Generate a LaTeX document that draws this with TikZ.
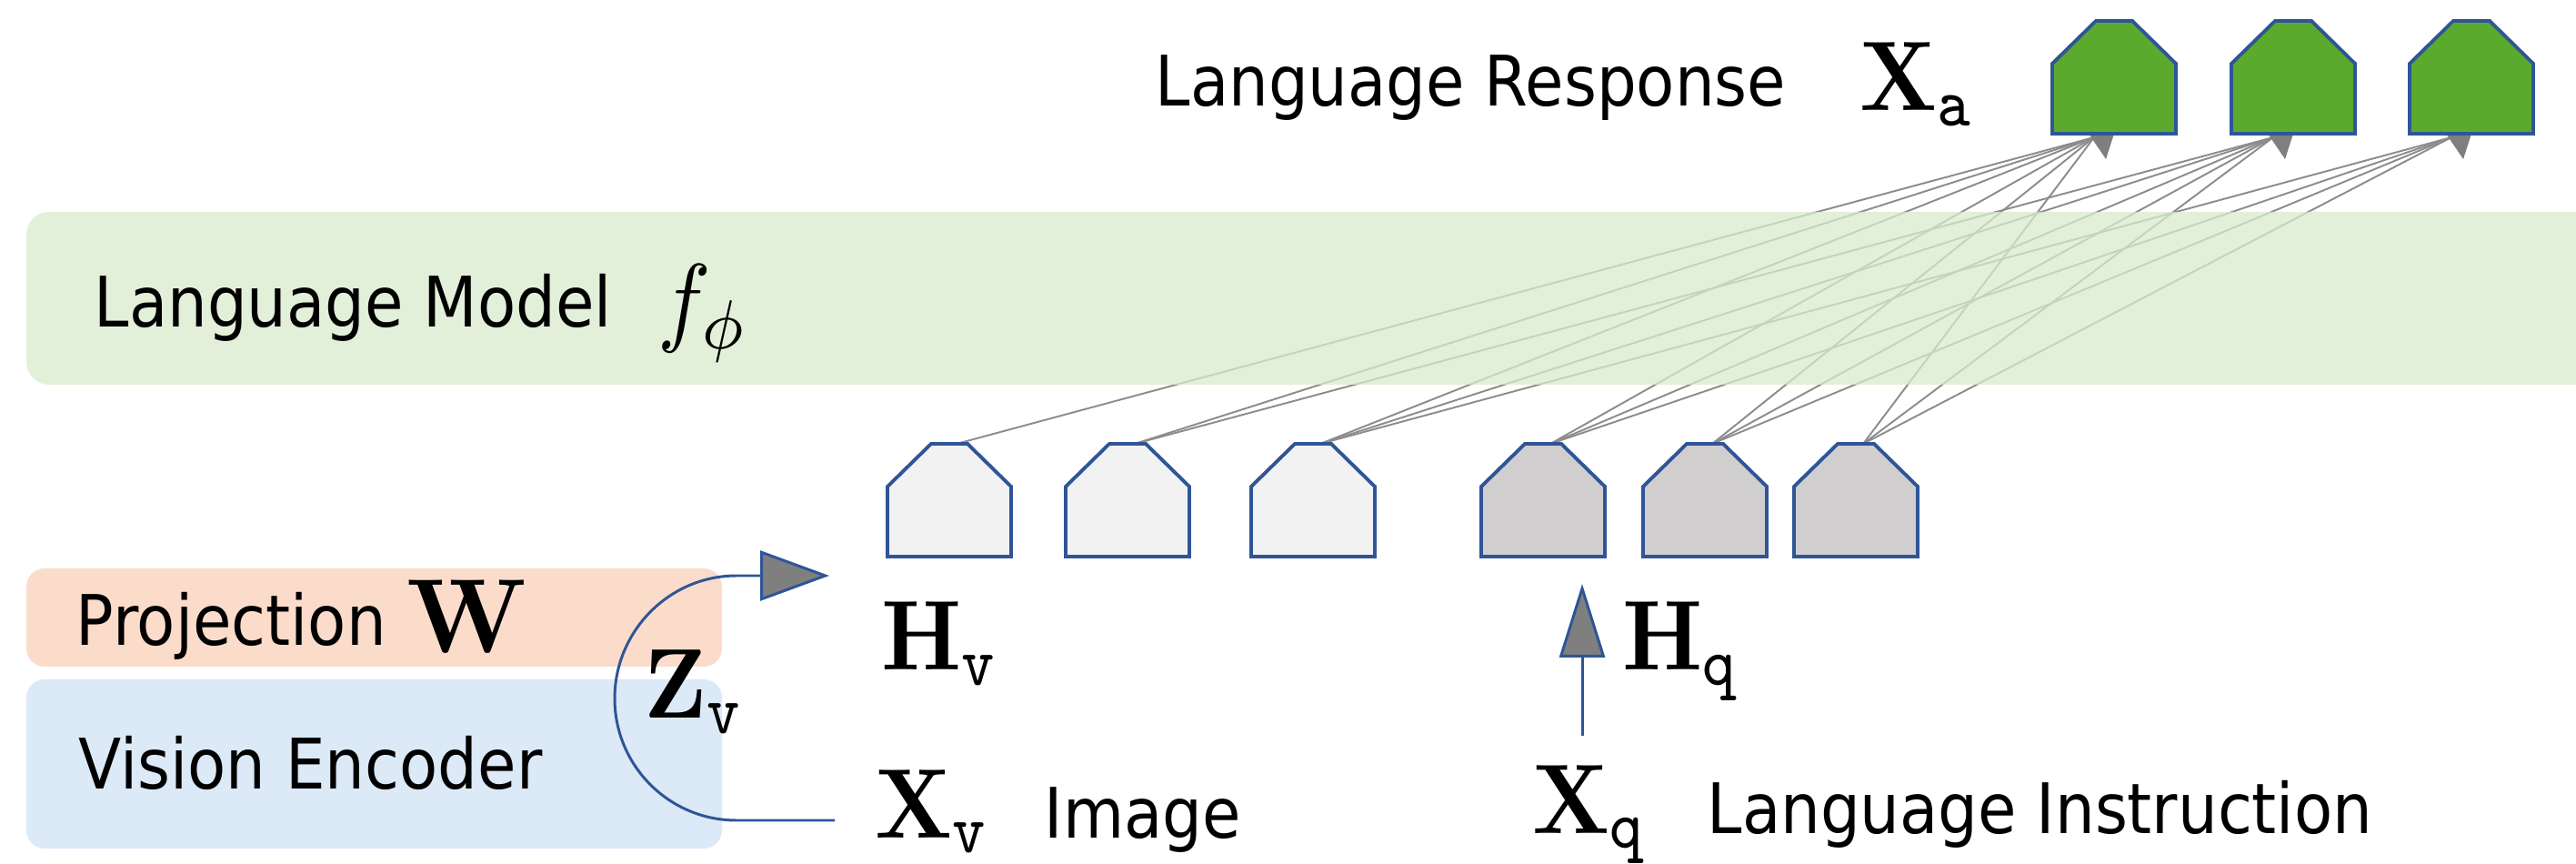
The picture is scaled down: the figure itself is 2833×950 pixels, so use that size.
\documentclass[tikz,border=0pt]{standalone}
\usepackage[no-math]{fontspec}
\setmainfont[FakeStretch=0.9]{DejaVu Sans}
\usepackage{graphicx}
\usetikzlibrary{arrows.meta,calc}
\pgfdeclarelayer{lines}
\pgfdeclarelayer{band}
\pgfsetlayers{lines,band,main}
\definecolor{projfill}{HTML}{FBDCCB}
\definecolor{visfill}{HTML}{DCE9F7}
\definecolor{lmfill}{HTML}{D8EBCC}
\definecolor{tokblue}{HTML}{2F5597}
\definecolor{toklight}{HTML}{F2F2F2}
\definecolor{tokdark}{HTML}{D0CECE}
\definecolor{tokgreen}{HTML}{5BAA2E}
\definecolor{conngray}{HTML}{8C8C8C}
\definecolor{headgray}{HTML}{7F7F7F}
\newcommand{\mth}[1]{\scalebox{2.79}[3.1]{$#1$}}
\newcommand{\mthbig}[1]{\scalebox{3.15}[3.3]{$#1$}}
\newcommand{\tokpoly}[2]{%
  \filldraw[tokedge, fill=#2] (#1.south west) -- ($(#1.north west)+(0,47)$)
    -- ($(#1.north)+(-20,0)$) -- ($(#1.north)+(20,0)$)
    -- ($(#1.north east)+(0,47)$) -- (#1.south east) -- cycle;}
\tikzset{
  tokbox/.style={minimum width=13.6mm, minimum height=12.4mm, inner sep=0pt, outer sep=0pt},
  tokedge/.style={draw=tokblue, line width=1.1pt, line join=miter},
  lbl/.style={anchor=base west, inner sep=0pt, font=\fontsize{21.8}{24}\selectfont},
  mlbl/.style={anchor=base west, inner sep=0pt},
  conn/.style={draw=conngray, line width=0.55pt},
  arcline/.style={draw=tokblue, line width=0.85pt},
}
\begin{document}
\begin{tikzpicture}[x=0.1mm, y=-0.1mm]
\useasboundingbox (0,0) rectangle (2833,950);

% ---- boxes ----
\fill[projfill, rounded corners=2mm] (29,625) rectangle (794,733);
\fill[visfill, rounded corners=2mm] (29,747) rectangle (794,933);
\begin{pgfonlayer}{band}
  \fill[lmfill, fill opacity=0.75, rounded corners=2.5mm] (29,233) rectangle (2950,423);
\end{pgfonlayer}

% ---- input tokens ----
\foreach \n/\x/\c in {1/1044/toklight, 2/1240/toklight, 3/1444/toklight,
                      4/1697/tokdark, 5/1875/tokdark, 6/2041/tokdark}{
  \node[tokbox] (t\n) at (\x,550) {};
  \tokpoly{t\n}{\c}
}
% ---- output tokens ----
\foreach \n/\x in {1/2325, 2/2522, 3/2718}{
  \node[tokbox] (a\n) at (\x,85) {};
  \tokpoly{a\n}{tokgreen}
}

% ---- attention lines ----
\begin{pgfonlayer}{lines}
  \foreach \g/\from in {1/1, 2/2, 3/3}{
    \foreach \i in {\from,...,6}{
      \draw[conn] ($(t\i.north)+(8,0)$) -- ($(a\g.south)+(-22,4)$);
    }
    \fill[headgray] ($(a\g.south)+(-28,0)$) -- ($(a\g.south)+(0,0)$) -- ($(a\g.south)+(-9,28)$) -- cycle;
  }
\end{pgfonlayer}

% ---- labels ----
\node[lbl] (lr) at (1270,117) {Language Response};
\node[mlbl] (xa) at (2045,122) {\mth{\mathbf{X}_{\mathtt{a}}}};
\node[lbl] (lm) at (103,360) {Language Model};
\node[mlbl] (fphi) at (723,367) {\mth{f_{\phi}}};
\node[lbl] (proj) at (83,710) {Projection};
\node[mlbl] (w) at (447,718) {\mthbig{\mathbf{W}}};
\node[lbl] (venc) at (86,867) {Vision Encoder};
\node[mlbl] (zv) at (708,790) {\mth{\mathbf{Z}_{\mathtt{v}}}};
\node[mlbl] (hv) at (969,737) {\mth{\mathbf{H}_{\mathtt{v}}}};
\node[mlbl] (hq) at (1784,737) {\mth{\mathbf{H}_{\mathtt{q}}}};
\node[mlbl] (xv) at (962,921) {\mth{\mathbf{X}_{\mathtt{v}}}};
\node[lbl] (img) at (1148,921) {Image};
\node[mlbl] (xq) at (1685,916) {\mth{\mathbf{X}_{\mathtt{q}}}};
\node[lbl] (li) at (1877,916) {Language Instruction};

% ---- Z_v arc ----
\coordinate (zs) at (918,902);
\coordinate (ztip) at (912,633);
\draw[arcline, -{Triangle[length=21.6pt, width=15.6pt, fill=headgray]}]
  (zs) -- (810,902)
  .. controls (736,902) and (676,842) .. (676,768)
  .. controls (676,694) and (736,633) .. (810,633) -- (ztip);

% ---- H_q arrow ----
\coordinate (qtip) at (1740,642);
\draw[arcline, -{Triangle[length=23pt, width=14.2pt, fill=headgray]}]
  ($(xq.north -| qtip)+(0,-32)$) -- (qtip);
\end{tikzpicture}
\end{document}
